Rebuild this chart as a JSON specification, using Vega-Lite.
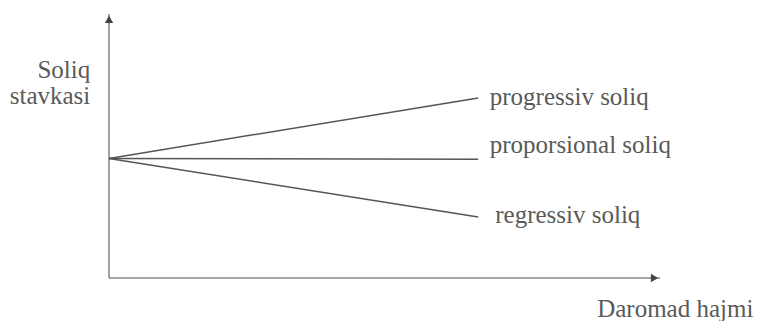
{
  "$schema": "https://vega.github.io/schema/vega-lite/v6.json",
  "autosize": {"type": "none"},
  "width": 551,
  "height": 264,
  "padding": {"left": 109, "top": 14, "right": 99, "bottom": 43},
  "background": "white",
  "config": {"view": {"stroke": null}},
  "datasets": {
    "axes": [
      {"x": 0, "y": 0, "x2": 100, "y2": 0},
      {"x": 0, "y": 0, "x2": 0, "y2": 100}
    ],
    "arrows": [
      {"x": 0, "y": 98, "shape": "triangle-up"},
      {"x": 99, "y": 0, "shape": "triangle-right"}
    ],
    "lines": [
      {"series": "progressiv", "x": 0, "y": 45.3},
      {"series": "progressiv", "x": 67, "y": 68.2},
      {"series": "proporsional", "x": 0, "y": 45.3},
      {"series": "proporsional", "x": 67, "y": 45},
      {"series": "regressiv", "x": 0, "y": 45.3},
      {"series": "regressiv", "x": 67, "y": 23.1}
    ],
    "labels": [
      {"text": "progressiv soliq", "x": 69.1, "y": 65.5, "align": "left"},
      {"text": "proporsional soliq", "x": 69.1, "y": 47.3, "align": "left"},
      {"text": "regressiv soliq", "x": 70.1, "y": 20.8, "align": "left"},
      {"text": "Soliq", "x": -3.4, "y": 75.8, "align": "right"},
      {"text": "stavkasi", "x": -3.4, "y": 65.9, "align": "right"},
      {"text": "Daromad hajmi", "x": 88.6, "y": -14.8, "align": "left"}
    ]
  },
  "layer": [
    {
      "data": {"name": "axes"},
      "mark": {"type": "rule", "color": "#8a8a8a", "strokeWidth": 1.6},
      "encoding": {
        "x": {"field": "x", "type": "quantitative", "scale": {"domain": [0, 100], "nice": false, "zero": false}, "axis": null},
        "y": {"field": "y", "type": "quantitative", "scale": {"domain": [0, 100], "nice": false, "zero": false}, "axis": null},
        "x2": {"field": "x2"},
        "y2": {"field": "y2"}
      }
    },
    {
      "data": {"name": "arrows"},
      "mark": {"type": "point", "filled": true, "color": "#444444", "size": 70, "opacity": 1},
      "encoding": {
        "x": {"field": "x", "type": "quantitative", "scale": {"domain": [0, 100], "nice": false, "zero": false}, "axis": null},
        "y": {"field": "y", "type": "quantitative", "scale": {"domain": [0, 100], "nice": false, "zero": false}, "axis": null},
        "shape": {"field": "shape", "type": "nominal", "scale": null, "legend": null}
      }
    },
    {
      "data": {"name": "lines"},
      "mark": {"type": "line", "color": "#555555", "strokeWidth": 1.5},
      "encoding": {
        "x": {"field": "x", "type": "quantitative", "scale": {"domain": [0, 100], "nice": false, "zero": false}, "axis": null},
        "y": {"field": "y", "type": "quantitative", "scale": {"domain": [0, 100], "nice": false, "zero": false}, "axis": null},
        "detail": {"field": "series", "type": "nominal"}
      }
    },
    {
      "data": {"name": "labels"},
      "transform": [{"filter": "datum.align === 'left'"}],
      "mark": {"type": "text", "font": "Times New Roman", "fontSize": 25, "color": "#5a5a5a", "baseline": "alphabetic", "align": "left"},
      "encoding": {
        "x": {"field": "x", "type": "quantitative", "scale": {"domain": [0, 100], "nice": false, "zero": false}, "axis": null},
        "y": {"field": "y", "type": "quantitative", "scale": {"domain": [0, 100], "nice": false, "zero": false}, "axis": null},
        "text": {"field": "text", "type": "nominal"}
      }
    },
    {
      "data": {"name": "labels"},
      "transform": [{"filter": "datum.align === 'right'"}],
      "mark": {"type": "text", "font": "Times New Roman", "fontSize": 25, "color": "#5a5a5a", "baseline": "alphabetic", "align": "right"},
      "encoding": {
        "x": {"field": "x", "type": "quantitative", "scale": {"domain": [0, 100], "nice": false, "zero": false}, "axis": null},
        "y": {"field": "y", "type": "quantitative", "scale": {"domain": [0, 100], "nice": false, "zero": false}, "axis": null},
        "text": {"field": "text", "type": "nominal"}
      }
    }
  ]
}
